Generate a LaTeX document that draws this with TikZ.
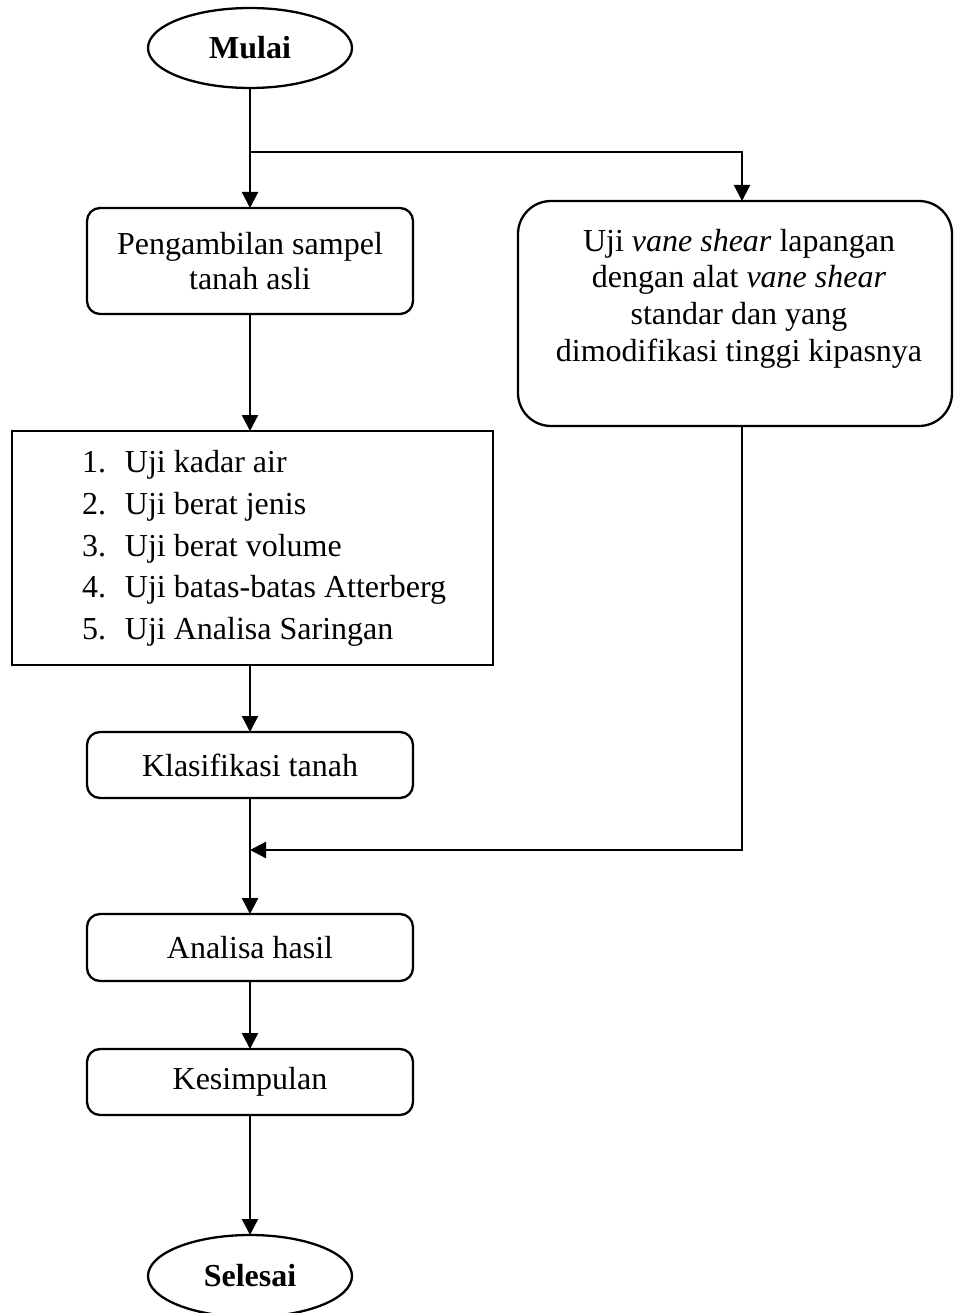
\documentclass[tikz,border=0pt]{standalone}
\usepackage{fontspec}
\setmainfont{Liberation Serif}
\usetikzlibrary{shapes.geometric,arrows.meta}
\begin{document}
\begin{tikzpicture}[x=1pt,y=-1pt,
  every node/.style={font=\fontsize{32}{35}\selectfont, inner sep=0pt, outer sep=0pt},
  flowline/.style={line width=2.3pt},
  arr/.style={flowline,-{Triangle[length=16pt,width=16pt]}},
  term/.style={draw, line width=2.3pt, ellipse, minimum width=204pt, minimum height=80pt, font=\fontsize{32}{35}\selectfont\bfseries},
  proc/.style={draw, line width=2.3pt, rounded corners=13pt, rectangle, minimum width=326pt, align=center},
  plainbox/.style={draw, line width=2.3pt, rectangle},
  item/.style={anchor=base west}
]
\useasboundingbox (0,0) rectangle (953,1313);

\node[term] (mulai) at (250,48) {Mulai};
\node[proc, minimum height=106pt] (peng) at (250,261) {Pengambilan sampel\\tanah asli};
\node[draw, line width=2.3pt, rounded corners=33pt, minimum width=434pt, minimum height=225pt] (vane) at (735,313.5) {};
\node[align=center, font=\fontsize{32}{36.7}\selectfont] (vanetxt) at (739,298.5)
  {Uji \textit{vane shear} lapangan\\dengan alat \textit{vane shear}\\standar dan yang\\dimodifikasi tinggi kipasnya};

\node[plainbox, minimum width=481pt, minimum height=234pt] (list) at (252.5,548) {};
\node[item] (l1) at (82,472) {\makebox[43pt][l]{1.}Uji kadar air};
\node[item] (l2) at (82,514) {\makebox[43pt][l]{2.}Uji berat jenis};
\node[item] (l3) at (82,556) {\makebox[43pt][l]{3.}Uji berat volume};
\node[item] (l4) at (82,597.5) {\makebox[43pt][l]{4.}Uji batas-batas Atterberg};
\node[item] (l5) at (82,639) {\makebox[43pt][l]{5.}Uji Analisa Saringan};

\node[proc, minimum height=66pt] (klas) at (250,765) {Klasifikasi tanah};
\node[proc, minimum height=67pt] (ana) at (250,947.5) {Analisa hasil};
\node[proc, minimum height=66pt] (kes) at (250,1082) {Kesimpulan};
\node[term, minimum height=82pt] (sel) at (250,1276) {Selesai};

\coordinate (br) at (250,152);
\coordinate (vin) at (742,201);
\coordinate (vout) at (742,426);
\coordinate (join) at (250,850);

\draw[arr] (mulai.south) -- (peng.north);
\draw[arr] (br) -| (vin);
\draw[arr] (peng.south) -- (peng.south |- list.north);
\draw[arr] (klas.north |- list.south) -- (klas.north);
\draw[arr] (klas.south) -- (ana.north);
\draw[arr] (vout) |- (join);
\draw[arr] (ana.south) -- (kes.north);
\draw[arr] (kes.south) -- (sel.north);
\end{tikzpicture}
\end{document}
